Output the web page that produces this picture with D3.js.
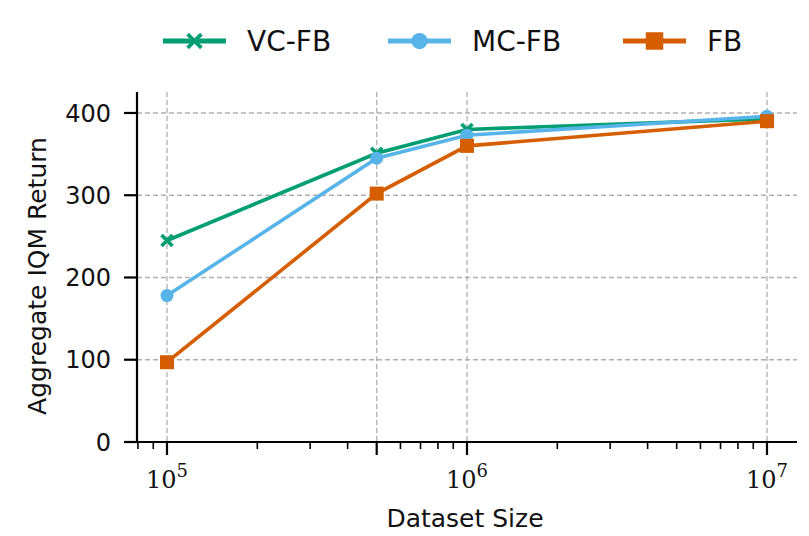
<!DOCTYPE html>
<html>
<head>
<meta charset="utf-8">
<script src="https://cdn.jsdelivr.net/npm/d3@7"></script>
<style>
  body { margin: 0; background: #fff; }
  svg { display: block; }
  .lbl { font-family: "DejaVu Sans", sans-serif; fill: #111; }
  .math { font-family: "DejaVu Serif", "Liberation Serif", serif; fill: #111; }
</style>
</head>
<body>
<svg id="chart" width="809" height="536"></svg>
<script>
const sizes = [1e5, 5e5, 1e6, 1e7]
const vcFb = [245, 351, 380, 393]
const mcFb = [178, 345, 373, 396]
const fb = [97, 302, 360, 390]
const yTicks = [0, 100, 200, 300, 400]
const xMajor = [1e5, 5e5, 1e6, 1e7]
const xLabeled = [1e5, 1e6, 1e7]

const series = [
  { name: 'VC-FB', values: vcFb, color: '#029e73', marker: 'cross' },
  { name: 'MC-FB', values: mcFb, color: '#56b4e9', marker: 'circle' },
  { name: 'FB', values: fb, color: '#d55e00', marker: 'square' }
]

const svg = d3.select('#chart')
const plotLeft = 137
const plotRight = 797
const plotTop = 92
const plotBottom = 442

const x = d3.scaleLog().domain([Math.pow(10, 4.9), Math.pow(10, 7.1)]).range([plotLeft, plotRight])
const y = d3.scaleLinear().domain([0, 425.5]).range([plotBottom, plotTop])

// minor ticks
const minor = []
for (let e = 4; e <= 7; e++) {
  for (let m = 1; m < 10; m++) {
    const v = m * Math.pow(10, e)
    const lv = Math.log10(v)
    if (lv >= 4.9 && lv <= 7.1 && !xMajor.includes(v)) minor.push(v)
  }
}

// grid
const grid = svg.append('g')
  .attr('stroke', '#b0b0b0')
  .attr('stroke-width', 1.3)
  .attr('stroke-dasharray', '5,3')
grid.selectAll('.gy').data(yTicks.filter(d => d > 0)).enter().append('line')
  .attr('x1', plotLeft).attr('x2', plotRight)
  .attr('y1', d => y(d)).attr('y2', d => y(d))
grid.selectAll('.gx').data(xMajor).enter().append('line')
  .attr('x1', d => x(d)).attr('x2', d => x(d))
  .attr('y1', plotTop).attr('y2', plotBottom)

// axes
const xAxis = svg.append('g').attr('transform', `translate(0,${plotBottom})`)
xAxis.append('line').attr('x1', plotLeft).attr('x2', plotRight).attr('stroke', '#000').attr('stroke-width', 2.2)
xAxis.selectAll('.mj').data(xMajor).enter().append('line')
  .attr('x1', d => x(d)).attr('x2', d => x(d)).attr('y1', 0).attr('y2', 13)
  .attr('stroke', '#000').attr('stroke-width', 2.2)
xAxis.selectAll('.mn').data(minor).enter().append('line')
  .attr('x1', d => x(d)).attr('x2', d => x(d)).attr('y1', 0).attr('y2', 7)
  .attr('stroke', '#000').attr('stroke-width', 1.6)
const xl = xAxis.selectAll('.xl').data(xLabeled).enter().append('text')
  .attr('class', 'math')
  .attr('x', d => x(d)).attr('y', 46)
  .attr('text-anchor', 'middle')
  .attr('font-size', 24)
xl.append('tspan').text('10')
xl.append('tspan').attr('dy', -11).attr('font-size', 18).text(d => Math.round(Math.log10(d)))

const yAxis = svg.append('g').attr('transform', `translate(${plotLeft},0)`)
yAxis.append('line').attr('y1', plotTop).attr('y2', plotBottom).attr('stroke', '#000').attr('stroke-width', 2.2)
yAxis.selectAll('.yt').data(yTicks).enter().append('line')
  .attr('x1', -13).attr('x2', 0)
  .attr('y1', d => y(d)).attr('y2', d => y(d))
  .attr('stroke', '#000').attr('stroke-width', 2.2)
yAxis.selectAll('.yl').data(yTicks).enter().append('text')
  .attr('class', 'lbl')
  .attr('x', -26).attr('y', d => y(d))
  .attr('dy', '0.36em')
  .attr('text-anchor', 'end')
  .attr('font-size', 24)
  .text(d => d)

svg.append('text').attr('class', 'lbl')
  .attr('x', 465).attr('y', 527)
  .attr('text-anchor', 'middle').attr('font-size', 25)
  .text('Dataset Size')
svg.append('text').attr('class', 'lbl')
  .attr('transform', 'translate(46,276) rotate(-90)')
  .attr('text-anchor', 'middle').attr('font-size', 25)
  .text('Aggregate IQM Return')

function drawMarker (g, type, color, k) {
  if (type === 'circle') {
    g.append('circle').attr('r', 6.5 * k).attr('fill', color)
  } else if (type === 'square') {
    const s = 14 * k
    g.append('rect').attr('x', -s / 2).attr('y', -s / 2).attr('width', s).attr('height', s).attr('fill', color)
  } else {
    const a = 5.5 * k
    g.append('path').attr('d', `M${-a},${-a}L${a},${a}M${-a},${a}L${a},${-a}`)
      .attr('stroke', color).attr('stroke-width', 3.6)
  }
}

const line = d3.line().x(d => x(d[0])).y(d => y(d[1]))
series.forEach(s => {
  const pts = sizes.map((v, i) => [v, s.values[i]])
  svg.append('path').datum(pts)
    .attr('d', line)
    .attr('fill', 'none')
    .attr('stroke', s.color)
    .attr('stroke-width', 3.6)
  pts.forEach(p => {
    const g = svg.append('g').attr('transform', `translate(${x(p[0])},${y(p[1])})`)
    drawMarker(g, s.marker, s.color, 1)
  })
})

// legend
const legendX = [163, 388, 623]
series.forEach((s, i) => {
  const g = svg.append('g').attr('transform', `translate(${legendX[i]},41)`)
  g.append('line').attr('x1', 0).attr('x2', 63).attr('stroke', s.color).attr('stroke-width', 4.8)
  const m = g.append('g').attr('transform', 'translate(31.5,0)')
  drawMarker(m, s.marker, s.color, 1.25)
  g.append('text').attr('class', 'lbl')
    .attr('x', 84).attr('dy', '0.36em')
    .attr('font-size', 28)
    .text(s.name)
})
</script>
</body>
</html>
